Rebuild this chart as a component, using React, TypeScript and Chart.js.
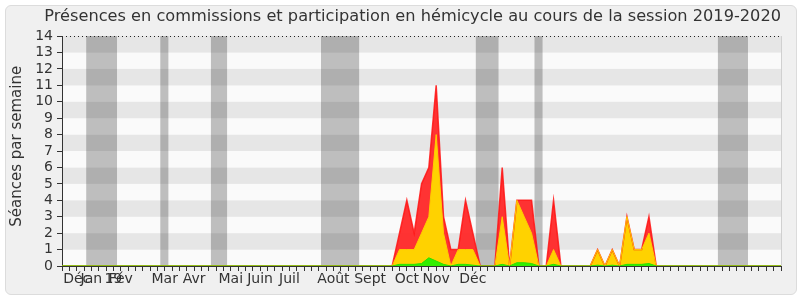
import React, { useEffect, useRef } from 'react';
import { Chart, registerables } from 'chart.js';

Chart.register(...registerables);

// ---- data (one value per week, weeks 0..98) ----
const WEEK_COUNT = 99;
const Y_MAX = 14;

// month labels placed at the week index where they appear
const tickLabelWeeks = [2, 4, 7, 8, 14, 18, 23, 27, 31, 37, 42, 47, 51, 56];
const tickLabelTexts = ['Déc', 'Jan', '19', 'Fév', 'Mar', 'Avr', 'Mai', 'Juin', 'Juil', 'Août', 'Sept', 'Oct', 'Nov', 'Déc'];

// vacation periods (start week, end week)
const vacationStarts = [3.3, 13.4, 20.3, 35.3, 56.4, 64.4, 89.4];
const vacationEnds = [7.5, 14.5, 22.5, 40.5, 59.5, 65.5, 93.5];

// red series (total)
const seriesRed = [
  0, 0, 0, 0, 0, 0, 0, 0, 0, 0,
  0, 0, 0, 0, 0, 0, 0, 0, 0, 0,
  0, 0, 0, 0, 0, 0, 0, 0, 0, 0,
  0, 0, 0, 0, 0, 0, 0, 0, 0, 0,
  0, 0, 0, 0, 0, 0, 2, 4, 2, 5,
  6, 11, 3, 1, 1, 4, 2, 0, 0, 0,
  6, 0, 4, 4, 4, 0, 0, 4, 0, 0,
  0, 0, 0, 1, 0, 1, 0, 3, 1, 1,
  3, 0, 0, 0, 0, 0, 0, 0, 0, 0,
  0, 0, 0, 0, 0, 0, 0, 0, 0,
];

// yellow series
const seriesYellow = [
  0, 0, 0, 0, 0, 0, 0, 0, 0, 0,
  0, 0, 0, 0, 0, 0, 0, 0, 0, 0,
  0, 0, 0, 0, 0, 0, 0, 0, 0, 0,
  0, 0, 0, 0, 0, 0, 0, 0, 0, 0,
  0, 0, 0, 0, 0, 0, 1, 1, 1, 2,
  3, 8, 2, 0, 1, 1, 1, 0, 0, 0,
  3, 0, 4, 3, 2, 0, 0, 1, 0, 0,
  0, 0, 0, 1, 0, 1, 0, 3, 1, 1,
  2, 0, 0, 0, 0, 0, 0, 0, 0, 0,
  0, 0, 0, 0, 0, 0, 0, 0, 0,
];

// green series
const seriesGreen = [
  0, 0, 0, 0, 0, 0, 0, 0, 0, 0,
  0, 0, 0, 0, 0, 0, 0, 0, 0, 0,
  0, 0, 0, 0, 0, 0, 0, 0, 0, 0,
  0, 0, 0, 0, 0, 0, 0, 0, 0, 0,
  0, 0, 0, 0, 0, 0, 0.1, 0.1, 0.1, 0.15,
  0.5, 0.3, 0.1, 0, 0.1, 0.1, 0.05, 0, 0, 0,
  0.1, 0, 0.2, 0.2, 0.15, 0, 0, 0.1, 0, 0,
  0, 0, 0, 0.05, 0, 0.05, 0, 0.1, 0.1, 0.1,
  0.15, 0, 0, 0, 0, 0, 0, 0, 0, 0,
  0, 0, 0, 0, 0, 0, 0, 0, 0,
];

const toPoints = (arr: number[]) => arr.map((v, i) => ({ x: i, y: v }));

const backgroundPlugin = {
  id: 'sessionBackground',
  beforeDraw(chart: any) {
    const { ctx, chartArea: a, scales } = chart;
    const x = scales.x;
    const y = scales.y;
    ctx.save();
    for (let v = 0; v < Y_MAX; v++) {
      const top = y.getPixelForValue(v + 1);
      const bot = y.getPixelForValue(v);
      ctx.fillStyle = v % 2 === 1 ? '#e6e6e6' : '#fafafa';
      ctx.fillRect(a.left, top, a.right - a.left, bot - top);
    }
    ctx.fillStyle = 'rgba(0,0,0,0.24)';
    for (let k = 0; k < vacationStarts.length; k++) {
      const x0 = x.getPixelForValue(vacationStarts[k]);
      const x1 = x.getPixelForValue(vacationEnds[k]);
      ctx.fillRect(x0, a.top, x1 - x0, a.bottom - a.top);
    }
    // dotted top line
    ctx.strokeStyle = '#222';
    ctx.lineWidth = 1;
    ctx.setLineDash([1, 3]);
    ctx.beginPath();
    ctx.moveTo(a.left, Math.round(a.top) + 0.5);
    ctx.lineTo(a.right, Math.round(a.top) + 0.5);
    ctx.stroke();
    ctx.setLineDash([]);
    // right border
    ctx.strokeStyle = '#d0d0d0';
    ctx.beginPath();
    ctx.moveTo(Math.round(a.right) + 0.5, a.top);
    ctx.lineTo(Math.round(a.right) + 0.5, a.bottom);
    ctx.stroke();
    ctx.restore();
  },
};

export default function App() {
  const canvasRef = useRef<HTMLCanvasElement | null>(null);

  useEffect(() => {
    if (!canvasRef.current) return;
    Chart.defaults.font.family = "'DejaVu Sans', sans-serif";
    const chart = new Chart(canvasRef.current, {
      type: 'line',
      data: {
        datasets: [
          {
            label: 'vert',
            data: toPoints(seriesGreen),
            borderColor: '#2be000',
            backgroundColor: '#33ee00',
            borderWidth: 1,
            fill: 'origin',
            pointRadius: 0,
            tension: 0,
          },
          {
            label: 'jaune',
            data: toPoints(seriesYellow),
            borderColor: '#ffcc00',
            backgroundColor: '#ffd200',
            borderWidth: 1,
            fill: 'origin',
            pointRadius: 0,
            tension: 0,
          },
          {
            label: 'rouge',
            data: toPoints(seriesRed),
            borderColor: 'rgba(255,20,20,0.85)',
            backgroundColor: 'rgba(255,40,40,0.95)',
            borderWidth: 1.5,
            fill: 'origin',
            pointRadius: 0,
            tension: 0,
          },
        ],
      },
      options: {
        animation: false,
        responsive: false,
        maintainAspectRatio: false,
        events: [],
        layout: { padding: { left: 0, right: 19, top: 0, bottom: 0 } },
        plugins: {
          legend: { display: false },
          tooltip: { enabled: false },
          filler: { drawTime: 'beforeDatasetsDraw' },
          title: {
            display: true,
            align: 'end',
            text: 'Présences en commissions et participation en hémicycle au cours de la session 2019-2020',
            color: '#333',
            font: { size: 16.2, weight: 'normal' },
            padding: { top: 7, bottom: 9.6 },
          },
        },
        scales: {
          x: {
            type: 'linear',
            min: 0,
            max: WEEK_COUNT - 1,
            z: 1,
            ticks: {
              stepSize: 1,
              autoSkip: false,
              maxRotation: 0,
              minRotation: 0,
              maxTicksLimit: 1000,
              padding: 0,
              color: '#333',
              font: { size: 14 },
              callback: (v: any) => {
                const k = tickLabelWeeks.indexOf(Number(v));
                return k >= 0 ? tickLabelTexts[k] : '';
              },
            },
            grid: { drawOnChartArea: false, drawTicks: true, tickLength: 5, color: '#333' },
            border: { display: true, color: '#333' },
            afterFit: (scale: any) => {
              scale.height = 34;
            },
          },
          y: {
            min: 0,
            max: Y_MAX,
            z: 1,
            ticks: { stepSize: 1, autoSkip: false, padding: 4, color: '#333', font: { size: 14 } },
            grid: { drawOnChartArea: false, drawTicks: true, tickLength: 5, color: '#333' },
            border: { display: true, color: '#333' },
            title: {
              display: true,
              text: '  Séances par semaine',
              color: '#333',
              font: { size: 15 },
              padding: { top: 8, bottom: 0 },
            },
            afterFit: (scale: any) => {
              scale.width = 62;
            },
          },
        },
      },
      plugins: [backgroundPlugin],
    } as any);
    return () => chart.destroy();
  }, []);

  return (
    <div style={{ position: 'fixed', left: 0, top: 0, width: 800, height: 300, background: '#ffffff' }}>
      <div
        style={{
          position: 'absolute',
          left: 5,
          top: 5,
          width: 790,
          height: 288,
          background: '#f0f0f0',
          border: '1px solid #dcdcdc',
          borderRadius: 6,
        }}
      />
      <canvas ref={canvasRef} width={800} height={300} style={{ position: 'absolute', left: 0, top: 0, width: 800, height: 300 }} />
    </div>
  );
}
